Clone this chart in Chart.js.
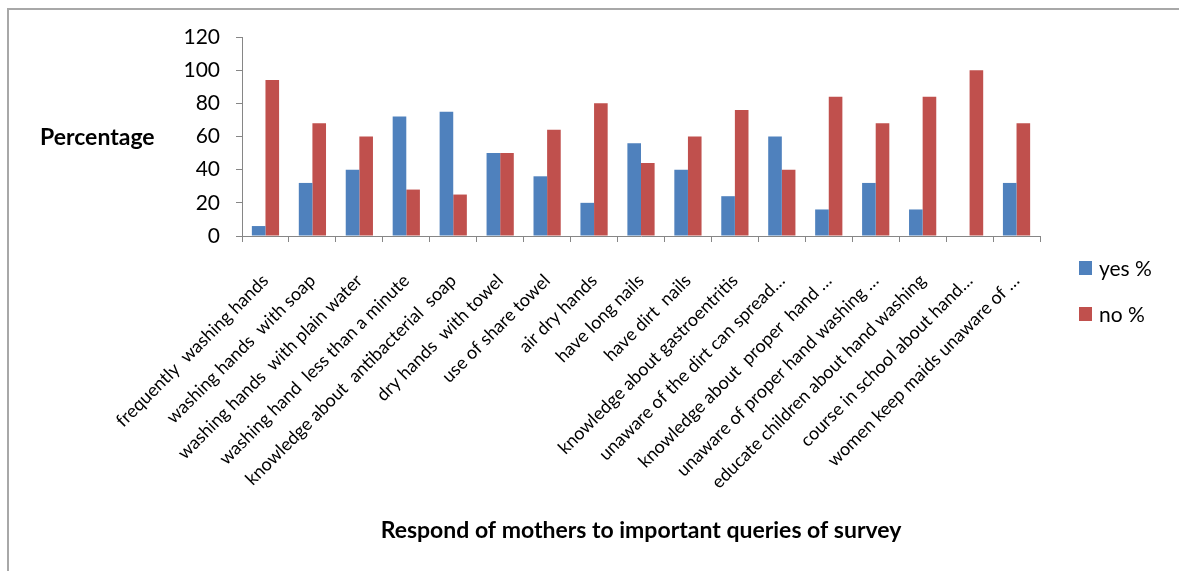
<!DOCTYPE html>
<html><head><meta charset="utf-8">
<script src="https://cdn.jsdelivr.net/npm/chart.js"></script>
<style>
html,body{margin:0;padding:0;background:#fff;overflow:hidden;}
#wrap{position:relative;width:1179px;height:571px;}
#frame{position:absolute;left:7px;top:8px;width:1180px;height:570px;border-left:2px solid #a8a8a8;border-top:2px solid #a8a8a8;}
canvas{position:absolute;left:0;top:0;}
</style></head><body>
<div id="wrap"><div id="frame"></div><canvas id="c" width="1179" height="571"></canvas></div>
<script>
const categories = [
  "frequently  washing hands",
  "washing hands  with soap",
  "washing hands  with plain water",
  "washing hand  less than a minute",
  "knowledge about  antibacterial  soap",
  "dry hands  with towel",
  "use of share towel",
  "air dry hands",
  "have long nails",
  "have dirt  nails",
  "knowledge about gastroentritis",
  "unaware of the dirt can spread…",
  "knowledge about  proper  hand …",
  "unaware of proper hand washing …",
  "educate children about hand washing",
  "course in school about hand…",
  "women keep maids unaware of …"
];
const yesValues = [6, 32, 40, 72, 75, 50, 36, 20, 56, 40, 24, 60, 16, 32, 16, 0, 32];
const noValues  = [94, 68, 60, 28, 25, 50, 64, 80, 44, 60, 76, 40, 84, 68, 84, 100, 68];
const seriesNames = ["yes %", "no %"];
const seriesColors = ["#4F81BD", "#C0504D"];
const yTickMin = 0, yTickMax = 120, yTickStep = 20;
const yAxisLabel = "Percentage";
const xAxisLabel = "Respond of mothers to important queries of survey";

const FONT = "Lato, 'Liberation Sans', sans-serif";

const sideLabels = {
  id: 'sideLabels',
  afterDraw(chart) {
    const ctx = chart.ctx;
    const ca = chart.chartArea;
    ctx.save();
    ctx.fillStyle = '#000';
    ctx.font = "bold 23px " + FONT;
    ctx.textAlign = 'left';
    ctx.textBaseline = 'middle';
    ctx.fillText(yAxisLabel, 40, 138);
    ctx.font = "21px " + FONT;
    const cy = 291, gap = 46;
    chart.data.datasets.forEach((ds, i) => {
      const y = cy + (i - 0.5) * gap;
      ctx.fillStyle = ds.backgroundColor;
      ctx.fillRect(ca.right + 39, y - 7, 13, 14);
      ctx.fillStyle = '#000';
      ctx.fillText(ds.label, ca.right + 59, y + 1);
    });
    ctx.restore();
  }
};

new Chart(document.getElementById('c'), {
  type: 'bar',
  data: {
    labels: categories,
    datasets: [
      { label: seriesNames[0], data: yesValues, backgroundColor: seriesColors[0] },
      { label: seriesNames[1], data: noValues, backgroundColor: seriesColors[1] }
    ]
  },
  options: {
    responsive: false,
    animation: false,
    devicePixelRatio: 1,
    layout: { padding: { left: 0, right: 139, top: 37, bottom: 0 } },
    categoryPercentage: 0.58,
    barPercentage: 1.0,
    plugins: { legend: { display: false }, tooltip: { enabled: false } },
    scales: {
      x: {
        grid: { drawOnChartArea: false, drawTicks: true, tickLength: 6, color: '#868686', offset: true },
        border: { color: '#868686', width: 1 },
        ticks: { autoSkip: false, minRotation: 45, maxRotation: 45, color: '#000', padding: 28,
                 font: { family: FONT, size: 18 } },
        title: { display: true, text: xAxisLabel, color: '#000',
                 font: { family: FONT, size: 23, weight: 'bold' }, padding: { top: 0, bottom: 27 } },
        afterFit(s) { s.height = 335; }
      },
      y: {
        min: yTickMin, max: yTickMax,
        ticks: { stepSize: yTickStep, color: '#000', padding: 16, font: { family: FONT, size: 21 } },
        grid: { drawOnChartArea: false, drawTicks: true, tickLength: 6, color: '#868686' },
        border: { color: '#868686', width: 1 },
        afterFit(s) { s.width = 242; }
      }
    }
  },
  plugins: [sideLabels]
});
</script>
</body></html>
